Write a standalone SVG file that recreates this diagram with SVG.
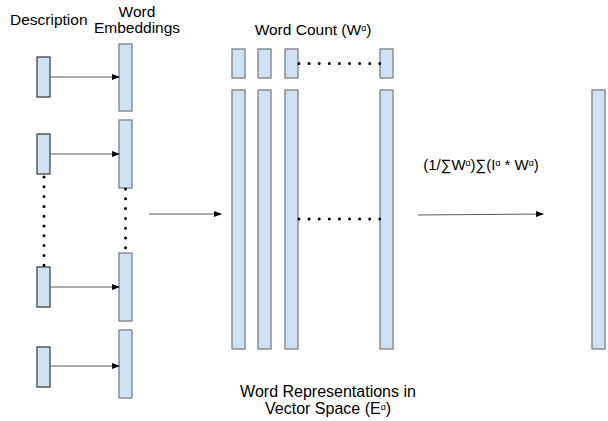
<svg xmlns="http://www.w3.org/2000/svg" width="608" height="421" viewBox="0 0 608 421">
<defs>
<style>
.d{fill:#cfe2f3;stroke:#434343;stroke-width:1.3}
.b{fill:#cfe2f3;stroke:#7f7f7f;stroke-width:1.3}
.t{font-family:"Liberation Sans",Arial,sans-serif;font-size:15.5px;fill:#000}
.w{font-family:"Liberation Sans",Arial,sans-serif;font-size:16px;fill:#000}
.f{font-family:"Liberation Sans",Arial,sans-serif;font-size:15px;fill:#000}
.a{stroke:#595959;stroke-width:1;fill:none;marker-end:url(#ah)}
.dot{stroke:#000;stroke-width:3;stroke-linecap:round;fill:none}
</style>
<marker id="ah" markerWidth="8" markerHeight="6" refX="7" refY="3" orient="auto" markerUnits="userSpaceOnUse">
<path d="M0,0 L8,3 L0,6 z" fill="#000"/>
</marker>
</defs>
<rect width="608" height="421" fill="#fff"/>
<g id="labels">
<text class="t" x="10" y="25">Description</text>
<text class="t" x="137" y="17" text-anchor="middle">Word</text>
<text class="t" x="137" y="33" text-anchor="middle">Embeddings</text>
<text class="t" x="313" y="35" text-anchor="middle">Word Count (W<tspan font-size="9" dy="-4">ɑ</tspan><tspan dy="4">)</tspan></text>
<text class="f" x="481" y="170" text-anchor="middle">(1/∑W<tspan font-size="9" dy="-4">ɑ</tspan><tspan dy="4">)∑(I</tspan><tspan font-size="9" dy="-4">ɑ</tspan><tspan dy="4"> * W</tspan><tspan font-size="9" dy="-4">ɑ</tspan><tspan dy="4">)</tspan></text>
<text class="w" x="328" y="397" text-anchor="middle">Word Representations in</text>
<text class="w" x="328" y="414" text-anchor="middle">Vector Space (E<tspan font-size="9" dy="-4">ɑ</tspan><tspan dy="4">)</tspan></text>
</g>
<g id="desc1"><rect class="d" x="37" y="57" width="13" height="40"/></g>
<g id="desc2"><rect class="d" x="37" y="134" width="13" height="40"/></g>
<g id="desc3"><rect class="d" x="37" y="267" width="13" height="40"/></g>
<g id="desc4"><rect class="d" x="37" y="347" width="13" height="40"/></g>
<g id="emb1"><rect class="b" x="119" y="44" width="13" height="67"/></g>
<g id="emb2"><rect class="b" x="119" y="120" width="13" height="68"/></g>
<g id="emb3"><rect class="b" x="119" y="253" width="13" height="68"/></g>
<g id="emb4"><rect class="b" x="119" y="330" width="13" height="68"/></g>
<g id="wc1"><rect class="b" x="232" y="49" width="13" height="29"/></g>
<g id="wc2"><rect class="b" x="258" y="49" width="13" height="29"/></g>
<g id="wc3"><rect class="b" x="285" y="49" width="13" height="29"/></g>
<g id="wc4"><rect class="b" x="380" y="49" width="13" height="29"/></g>
<g id="vec1"><rect class="b" x="232" y="90" width="13" height="259"/></g>
<g id="vec2"><rect class="b" x="258" y="90" width="13" height="259"/></g>
<g id="vec3"><rect class="b" x="285" y="90" width="13" height="259"/></g>
<g id="vec4"><rect class="b" x="380" y="90" width="13" height="259"/></g>
<g id="result"><rect class="b" x="592" y="90" width="13" height="259"/></g>
<g id="connectors">
<line class="a" x1="50" y1="77" x2="119" y2="77"/>
<line class="a" x1="50" y1="154" x2="119" y2="154"/>
<line class="a" x1="50" y1="287" x2="119" y2="287"/>
<line class="a" x1="50" y1="366" x2="119" y2="366"/>
<line class="a" x1="149" y1="214" x2="221" y2="214"/>
<line class="a" x1="418" y1="215" x2="543" y2="214"/>
<path class="dot" d="M44,177 V266" stroke-dasharray="0 9.8"/>
<path class="dot" d="M125.5,189 V254" stroke-dasharray="0 9.8"/>
<path class="dot" d="M299,63.5 H380" stroke-dasharray="0 10.1"/>
<path class="dot" d="M299,219 H380" stroke-dasharray="0 10.1"/>
</g>
</svg>
